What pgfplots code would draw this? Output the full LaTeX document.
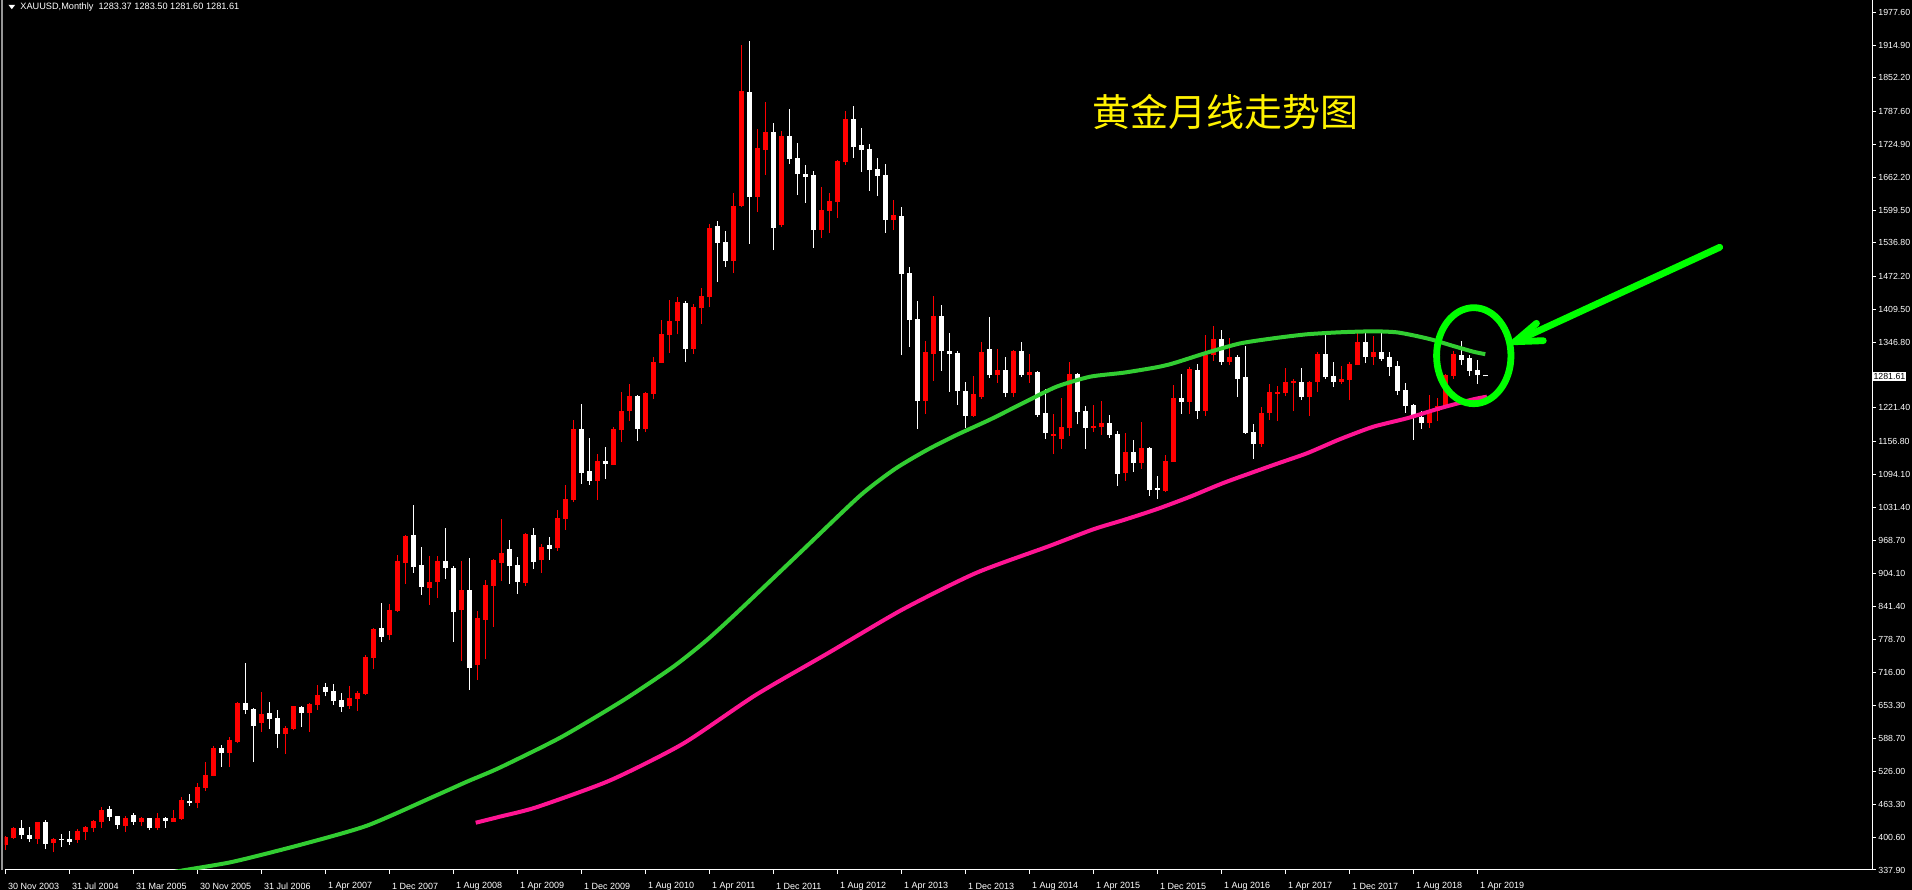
\documentclass[border=0pt]{standalone}
\usepackage{pgfplots}
\pgfplotsset{compat=1.18}
\usepackage{pgfplotstable}
\usepackage{fontspec}
\setmainfont{Liberation Sans}
\newfontfamily\cjk{Noto Sans CJK SC}
\definecolor{maG}{RGB}{50,205,50}
\definecolor{maM}{RGB}{255,20,147}
\definecolor{annG}{RGB}{0,255,0}
\definecolor{bull}{RGB}{255,0,0}
\definecolor{frame}{RGB}{150,150,150}

% red (rising) candles: index O H L C
\pgfplotstableread{
i O H L C
0 386 402 376 401
1 399 421 398 419
4 397 430 388 430
6 390 399 372 397
9 395 416 390 412
10 411 422 395 420
11 418 434 411 432
12 430 458 418 453
15 422 441 411 437
17 430 439 422 437
19 418 447 414 437
21 430 453 430 437
22 435 478 434 472
24 466 504 456 497
25 495 544 489 520
26 518 575 517 571
28 562 592 535 586
29 583 659 580 657
32 619 678 602 636
35 598 613 560 609
36 608 652 605 651
38 638 657 602 655
39 653 692 644 672
43 651 690 646 667
44 665 680 642 676
45 674 749 672 745
46 743 800 722 799
48 787 846 778 835
49 833 940 832 929
50 925 978 885 976
53 877 938 845 888
54 889 938 858 929
57 835 929 738 873
59 730 833 701 820
60 816 892 741 883
61 881 933 803 931
62 925 1009 890 944
65 887 982 881 980
67 930 961 906 955
69 953 1026 948 1011
70 1009 1074 988 1047
71 1045 1198 1041 1181
74 1082 1133 1045 1120
76 1112 1185 1112 1181
77 1179 1252 1156 1215
78 1215 1267 1196 1244
80 1181 1252 1175 1250
81 1248 1319 1238 1309
82 1307 1389 1307 1362
83 1361 1428 1326 1387
84 1387 1433 1362 1424
86 1334 1420 1324 1414
87 1412 1450 1382 1435
88 1433 1573 1414 1565
91 1502 1632 1479 1608
92 1608 1915 1605 1827
94 1625 1754 1596 1718
95 1714 1806 1667 1749
97 1571 1750 1567 1741
102 1561 1644 1546 1600
103 1598 1632 1556 1617
104 1615 1695 1584 1693
105 1691 1789 1686 1774
111 1580 1619 1561 1590
115 1234 1349 1210 1328
116 1324 1435 1273 1397
121 1206 1282 1204 1248
122 1242 1347 1238 1328
124 1284 1334 1269 1294
126 1250 1332 1242 1330
128 1284 1324 1269 1290
131 1168 1210 1133 1172
132 1162 1240 1143 1185
133 1183 1309 1168 1286
136 1183 1227 1175 1187
137 1185 1234 1170 1192
140 1097 1173 1082 1137
142 1116 1194 1105 1145
145 1062 1131 1061 1120
146 1118 1265 1118 1240
148 1233 1300 1210 1296
150 1215 1361 1206 1322
151 1322 1378 1311 1353
153 1309 1355 1303 1319
157 1152 1223 1147 1212
158 1212 1267 1198 1252
159 1248 1263 1196 1252
160 1250 1298 1244 1271
161 1269 1277 1215 1273
163 1242 1273 1206 1271
164 1271 1328 1252 1324
167 1271 1301 1267 1277
168 1275 1309 1236 1305
169 1303 1368 1303 1347
171 1319 1359 1303 1328
178 1192 1246 1183 1217
179 1215 1240 1196 1225
180 1223 1286 1221 1284
181 1282 1330 1277 1324
}\upc

% white (falling) candles: index O H L C
\pgfplotstableread{
i O H L C
2 418 434 397 404
3 405 420 391 397
5 430 434 378 388
7 397 407 382 395
8 397 412 386 392
13 454 460 432 439
14 441 442 416 424
16 443 447 424 430
18 437 438 414 418
20 437 439 418 432
23 470 483 460 466
27 571 577 535 562
30 657 734 636 644
31 646 648 544 613
33 638 659 607 627
34 628 644 571 598
37 650 651 611 638
40 688 695 670 678
41 680 693 653 661
42 663 676 640 650
47 801 848 774 783
51 978 1036 906 917
52 921 955 864 879
55 929 992 894 915
56 915 919 774 831
58 873 934 682 724
63 952 969 885 919
64 921 936 866 888
66 978 992 913 927
68 959 974 931 952
72 1181 1229 1076 1097
73 1101 1164 1074 1082
75 1120 1147 1085 1114
79 1244 1246 1158 1181
85 1422 1426 1309 1334
89 1569 1579 1462 1537
90 1538 1559 1491 1502
93 1825 1923 1535 1625
96 1749 1766 1523 1565
98 1741 1793 1688 1697
99 1699 1728 1628 1668
100 1668 1686 1613 1663
101 1667 1674 1527 1561
106 1774 1798 1699 1720
107 1724 1756 1672 1714
108 1716 1726 1636 1676
109 1678 1699 1626 1665
110 1667 1688 1556 1581
112 1588 1605 1322 1477
113 1479 1491 1338 1389
114 1391 1426 1181 1234
117 1397 1418 1292 1330
118 1330 1365 1252 1324
119 1326 1330 1227 1254
120 1254 1271 1183 1206
123 1334 1395 1278 1284
125 1294 1319 1242 1250
127 1330 1347 1280 1284
129 1290 1292 1204 1208
130 1212 1257 1162 1173
134 1286 1288 1190 1213
135 1215 1225 1143 1183
138 1192 1208 1164 1170
139 1171 1177 1072 1095
141 1137 1160 1099 1116
143 1145 1146 1053 1064
144 1068 1091 1047 1064
147 1240 1286 1210 1233
149 1294 1305 1200 1215
152 1353 1370 1303 1309
154 1319 1322 1242 1277
155 1280 1340 1172 1174
156 1175 1191 1124 1152
162 1271 1298 1236 1242
165 1324 1361 1277 1280
166 1282 1309 1261 1271
170 1347 1365 1307 1319
172 1328 1368 1311 1315
173 1319 1328 1282 1300
174 1301 1311 1246 1254
175 1256 1269 1212 1225
176 1227 1228 1160 1202
177 1204 1215 1181 1192
182 1322 1349 1303 1313
183 1317 1322 1282 1292
184 1294 1313 1267 1284
185 1283.37 1283.50 1281.60 1281.61
}\downc

\begin{document}
\begin{tikzpicture}
\useasboundingbox (0,0) rectangle (956bp,445bp);
\fill[black] (0,0) rectangle (956bp,445bp);
\fill[frame] (0.4bp,10bp) rectangle (1.7bp,445bp);
\begin{axis}[
  at={(2.25bp,10bp)}, anchor=south west,
  scale only axis, width=933.75bp, height=435bp,
  xmin=-0.1, xmax=233.34, ymin=337.9, ymax=2001.08,
  axis x line*=bottom, axis y line*=right,
  axis line style={white, line width=0.5bp, -},
  tick style={white, line width=0.5bp},
  major tick length=2bp,
  tick align=outside,
  xtick={0,8,...,184},
  xticklabels={30 Nov 2003, 31 Jul 2004, 31 Mar 2005, 30 Nov 2005, 31 Jul 2006, 1 Apr 2007, 1 Dec 2007, 1 Aug 2008, 1 Apr 2009, 1 Dec 2009, 1 Aug 2010, 1 Apr 2011, 1 Dec 2011, 1 Aug 2012, 1 Apr 2013, 1 Dec 2013, 1 Aug 2014, 1 Apr 2015, 1 Dec 2015, 1 Aug 2016, 1 Apr 2017, 1 Dec 2017, 1 Aug 2018, 1 Apr 2019},
  ytick={337.9,400.6,463.3,526.0,588.7,653.3,716.0,778.7,841.4,904.1,968.7,1031.4,1094.1,1156.8,1221.4,1346.8,1409.5,1472.2,1536.8,1599.5,1662.2,1724.9,1787.6,1852.2,1914.9,1977.6},
  yticklabels={337.90,400.60,463.30,526.00,588.70,653.30,716.00,778.70,841.40,904.10,968.70,1031.40,1094.10,1156.80,1221.40,1346.80,1409.50,1472.20,1536.80,1599.50,1662.20,1724.90,1787.60,1852.20,1914.90,1977.60},
  xticklabel style={anchor=west, inner sep=0pt, xshift=1.2bp, yshift=-6bp, text=white, font=\fontsize{4.5bp}{5bp}\selectfont},
  yticklabel style={anchor=west, inner sep=0pt, xshift=1.0bp, text=white, font=\fontsize{4.4bp}{5bp}\selectfont},
]
% wicks
\addplot[draw=none, mark=none, forget plot, error bars/.cd, y dir=plus, y explicit, error mark=none,
  error bar style={draw=bull, line width=0.55bp}]
  table[x=i, y=L, y error plus expr=\thisrow{H}-\thisrow{L}] {\upc};
\addplot[draw=none, mark=none, forget plot, error bars/.cd, y dir=plus, y explicit, error mark=none,
  error bar style={draw=white, line width=0.55bp}]
  table[x=i, y=L, y error plus expr=\thisrow{H}-\thisrow{L}] {\downc};
% bodies
\addplot[draw=none, mark=none, forget plot, error bars/.cd, y dir=plus, y explicit, error mark=none,
  error bar style={draw=bull, line width=2.6bp}]
  table[x=i, y=O, y error plus expr=\thisrow{C}-\thisrow{O}] {\upc};
\addplot[draw=none, mark=none, forget plot, error bars/.cd, y dir=plus, y explicit, error mark=none,
  error bar style={draw=white, line width=2.6bp}]
  table[x=i, y=C, y error plus expr=\thisrow{O}-\thisrow{C}] {\downc};
% moving averages
\addplot[maG, line width=2bp, smooth, tension=0.4] coordinates {
(15,318) (22.5,337.9) (28.5,353.8) (36.8,385.7) (45.2,422.6) (53.5,478) (57.7,506.7) (61.8,533.5)
(69.5,592) (77.3,662.9) (83.5,726.5) (87.7,777.6) (91.8,834.9) (99.3,943.9) (106.8,1052.9)
(111.2,1104.5) (115.2,1140.8) (118.9,1169.5) (123.1,1199) (127.3,1231.2) (131.4,1261.8)
(135.6,1280.9) (139.8,1288.6) (143.9,1298.9) (146,1306.5) (150.2,1326.8) (154.3,1344.4)
(158.5,1354.3) (162.7,1362) (166.8,1365.8) (171,1367.7) (173.9,1365.8) (176.4,1358.7)
(178.5,1351.1) (181,1339.6) (183.5,1328.7) (185,1324)};
\addplot[maM, line width=2bp, smooth, tension=0.4] coordinates {
(58.8,428.3) (61.8,439.8) (66.4,457.9) (75.6,509.2) (84.7,579.2) (93.8,672.4) (103,753.9)
(112.1,835.5) (121.3,905.5) (130.4,956.7) (136,989.2) (139.8,1007) (143.9,1027.5) (148.1,1051.5)
(152.3,1078) (158.5,1112.1) (162.7,1134.5) (166.8,1161.3) (171,1185.3) (175.2,1201.4)
(179.3,1220.5) (183.5,1237.7) (185.2,1242.7)};
% annotations
\draw[annG, line width=3.4bp] (axis cs:183.56,1321.1) ellipse [x radius=18.6bp, y radius=24bp];
\draw[annG, line width=3.4bp, line cap=round, line join=round]
  (axis cs:214.3,1528.3) -- (axis cs:188.7,1347.8);
\draw[annG, line width=3.4bp, line cap=round, line join=round]
  (axis cs:191.4,1383.0) -- (axis cs:188.7,1347.8) -- (axis cs:192.25,1349.8);
\node[text=yellow, font=\cjk\fontsize{19bp}{20bp}\selectfont] at (axis cs:152.5,1787.9) {黄金月线走势图};
\coordinate (pb) at (axis cs:233.34,1281.61);
\end{axis}
\node[anchor=west, fill=white, text=black, inner sep=0.55bp, font=\fontsize{4.4bp}{5bp}\selectfont] at (pb) {1281.61};
\fill[white] (4.2bp,442.6bp) -- (7.6bp,442.6bp) -- (5.9bp,440.4bp) -- cycle;
\node[anchor=west, inner sep=0pt, text=white, font=\fontsize{4.6bp}{5bp}\selectfont] at (10bp,441.4bp) {XAUUSD,Monthly\ \ 1283.37 1283.50 1281.60 1281.61};
\end{tikzpicture}
\end{document}
